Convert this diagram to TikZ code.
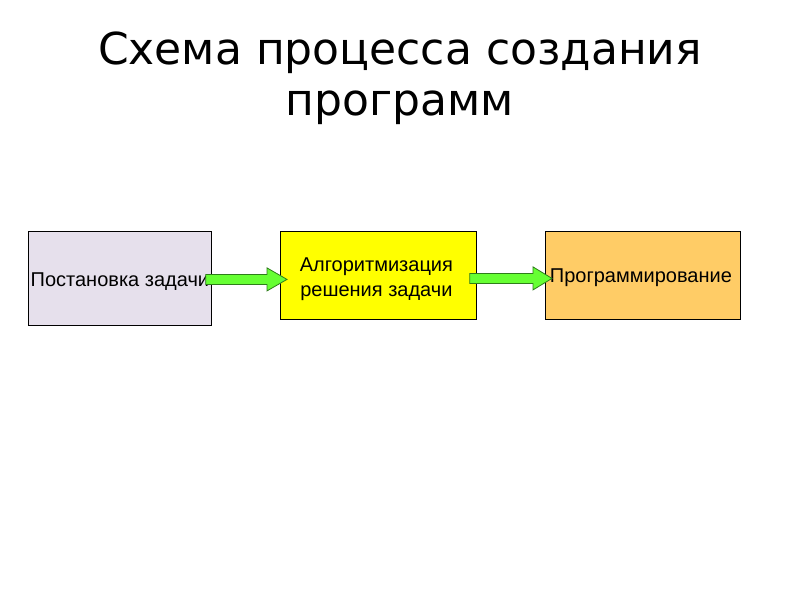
\documentclass[tikz,border=0pt]{standalone}
\usepackage{fontspec}
\setmainfont{Liberation Sans}
\newfontfamily\titlefont{DejaVu Sans}
\usetikzlibrary{calc}
\definecolor{boxa}{HTML}{E6E0EC}
\definecolor{boxb}{HTML}{FFFF00}
\definecolor{boxc}{HTML}{FFCC66}
\definecolor{arrfill}{HTML}{66FF33}
\definecolor{arrline}{HTML}{2E7D1A}
\tikzset{
  stagebox/.style={draw=black, line width=0.8pt, inner sep=0pt, anchor=north west},
  stagetext/.style={font=\fontsize{20}{25}\selectfont, align=center, inner sep=0pt},
  fatarrow/.style={fill=arrfill, draw=arrline, line width=0.8pt, line join=miter},
  titletext/.style={font=\titlefont\fontsize{44}{51}\selectfont, align=center}
}
\begin{document}
\begin{tikzpicture}[x=1pt,y=-1pt]
\useasboundingbox (0,0) rectangle (800,600);
\fill[white] (0,0) rectangle (800,600);
\node[titletext] (title) at (400,78) {Схема процесса создания\\программ};
\node[stagebox, fill=boxa, minimum width=183pt, minimum height=94pt] (b1) at (28,231) {};
\node[stagebox, fill=boxb, minimum width=196pt, minimum height=88pt] (b2) at (280,231) {};
\node[stagebox, fill=boxc, minimum width=195pt, minimum height=88pt] (b3) at (545,231) {};
\node[stagetext] (t1) at ($(b1.center)+(0,3)$) {Постановка задачи};
\node[stagetext] (t2) at ($(b2.center)+(-2,4)$) {Алгоритмизация\\решения задачи};
\node[stagetext] (t3) at ($(b3.center)+(-2,2)$) {Программирование};
% arrow 1
\coordinate (a1s) at ($(b1.east)+(-6,1)$);
\coordinate (a1e) at ($(b2.west |- a1s)+(7,0)$);
\draw[fatarrow] ($(a1s)+(0,-5)$) -- ($(a1e)+(-20,-5)$) -- ($(a1e)+(-20,-11.5)$) -- (a1e)
  -- ($(a1e)+(-20,11.5)$) -- ($(a1e)+(-20,5)$) -- ($(a1s)+(0,5)$) -- cycle;
% arrow 2
\coordinate (a2s) at ($(b2.east)+(-7,3)$);
\coordinate (a2e) at ($(b3.west |- a2s)+(7,0)$);
\draw[fatarrow] ($(a2s)+(0,-5)$) -- ($(a2e)+(-19,-5)$) -- ($(a2e)+(-19,-11.5)$) -- (a2e)
  -- ($(a2e)+(-19,11.5)$) -- ($(a2e)+(-19,5)$) -- ($(a2s)+(0,5)$) -- cycle;
\end{tikzpicture}
\end{document}
